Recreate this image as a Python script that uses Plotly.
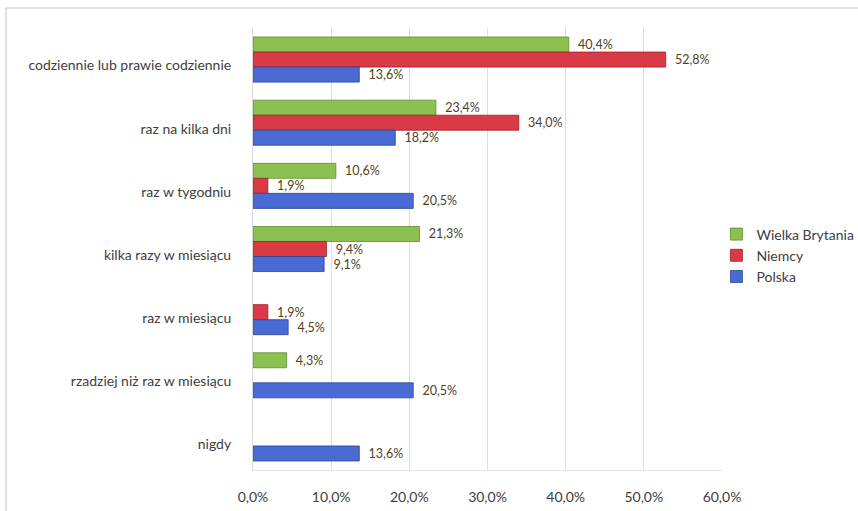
import plotly.graph_objects as go

categories = [
    "codziennie lub prawie codziennie",
    "raz na kilka dni",
    "raz w tygodniu",
    "kilka razy w miesiącu",
    "raz w miesiącu",
    "rzadziej niż raz w miesiącu",
    "nigdy",
]
wielka_brytania = [40.4, 23.4, 10.6, 21.3, None, 4.3, None]
niemcy = [52.8, 34.0, 1.9, 9.4, 1.9, None, None]
polska = [13.6, 18.2, 20.5, 9.1, 4.5, 20.5, 13.6]
x_ticks = [0, 10, 20, 30, 40, 50, 60]

series = [
    ("Wielka Brytania", wielka_brytania, "#8cc152", "#5e8c2e"),
    ("Niemcy", niemcy, "#d93a45", "#9c1f28"),
    ("Polska", polska, "#4a6bd4", "#2c4596"),
]


def pl_pct(v):
    return "" if v is None else "\u2002" + f"{v:.1f}%".replace(".", ",")


fig = go.Figure()
for name, vals, color, edge in series:
    fig.add_trace(go.Bar(
        name=name,
        y=categories,
        x=vals,
        orientation="h",
        marker=dict(color=color, line=dict(color=edge, width=0.8)),
        text=[pl_pct(v) for v in vals],
        textposition="outside",
        textfont=dict(family="Lato, Open Sans, sans-serif", size=12.5, color="#4d4324"),
        cliponaxis=False,
    ))

fig.update_layout(
    width=858,
    height=511,
    barmode="group",
    bargap=0.286,
    bargroupgap=0,
    plot_bgcolor="white",
    paper_bgcolor="white",
    margin=dict(l=253, r=136, t=28, b=41, autoexpand=False),
    font=dict(family="Lato, Open Sans, sans-serif", size=14, color="#404040"),
    legend=dict(
        xref="container", yref="container",
        x=0.835, y=0.50, xanchor="left", yanchor="middle",
        traceorder="normal",
        font=dict(size=14, color="#404040"),
        itemwidth=30,
        tracegroupgap=2,
    ),
    xaxis=dict(
        range=[0, 60],
        automargin=False,
        tickvals=x_ticks,
        ticktext=[f"{t:.1f}%".replace(".", ",") for t in x_ticks],
        showgrid=True,
        gridcolor="#dedede",
        gridwidth=1,
        zeroline=False,
        showline=True,
        linecolor="#e4e4e4",
        ticks="",
        ticklabelstandoff=14,
        tickfont=dict(size=14, color="#404040"),
    ),
    yaxis=dict(
        autorange="reversed",
        automargin=False,
        showgrid=False,
        showline=True,
        linecolor="#d8d8d8",
        ticks="",
        ticklabelstandoff=18,
        ticklabelshift=-6,
        tickfont=dict(size=14, color="#404040"),
    ),
    shapes=[
        dict(
            type="rect", xref="paper", yref="paper",
            x0=(6 - 253) / 469, x1=1.4, y0=-0.2, y1=1 + 20 / 442,
            line=dict(color="#c8c8c8", width=1.2),
            fillcolor="rgba(0,0,0,0)", layer="below",
        )
    ],
)

fig.write_html("out.html")
